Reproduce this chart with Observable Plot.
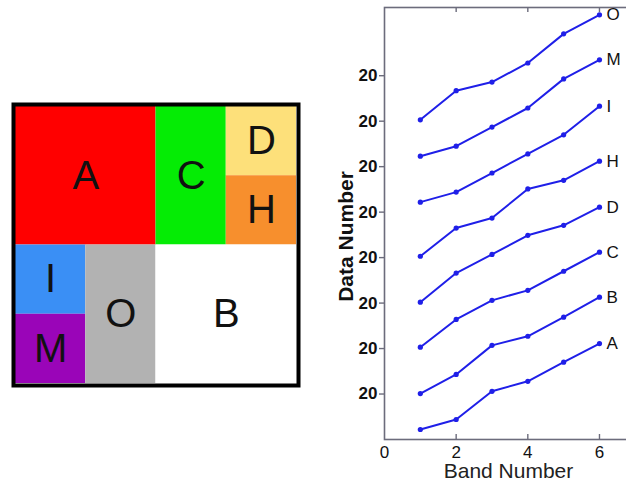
<!DOCTYPE html>
<html>
<head>
<meta charset="utf-8">
<script src="https://cdn.jsdelivr.net/npm/d3@7"></script>
<script src="https://cdn.jsdelivr.net/npm/@observablehq/plot@0.6"></script>
<style>
  html, body { margin: 0; padding: 0; background: white; }
  #wrap { position: relative; width: 626px; height: 481px; overflow: hidden; background: white; }
  #wrap svg { position: absolute; top: 0; left: 0; }
</style>
</head>
<body>
<div id="wrap"></div>
<script>
// ---- Left panel: block layout ----
const tileNames  = ["A", "C", "D", "H", "I", "M", "O", "B"];
const tileCol0   = [0, 2, 3, 3, 0, 0, 1, 2];
const tileCol1   = [2, 3, 4, 4, 1, 1, 2, 4];
const tileRow0   = [0, 0, 0, 1, 2, 3, 2, 2];
const tileRow1   = [2, 2, 1, 2, 3, 4, 4, 4];
const tileColors = ["#ff0000", "#05ec05", "#fde07a", "#f78f2d", "#3a8ff5", "#9a05b8", "#b2b2b2", "#ffffff"];

// ---- Right panel: offset band profiles ----
const bands = [1, 2, 3, 4, 5, 6];
const seriesNames = ["A", "B", "C", "D", "H", "I", "M", "O"];
const valA = [0.22, 0.44, 1.06, 1.28, 1.70, 2.11];
const valB = [1.01, 1.43, 2.07, 2.27, 2.69, 3.13];
const valC = [2.03, 2.64, 3.06, 3.28, 3.70, 4.12];
const valD = [3.02, 3.66, 4.07, 4.49, 4.71, 5.11];
const valH = [4.03, 4.65, 4.87, 5.51, 5.70, 6.12];
const valI = [5.22, 5.44, 5.86, 6.28, 6.70, 7.33];
const valM = [6.23, 6.45, 6.87, 7.29, 7.93, 8.35];
const valO = [7.03, 7.67, 7.86, 8.28, 8.92, 9.34];
const seriesValues = [valA, valB, valC, valD, valH, valI, valM, valO];
const yTickValues = [1, 2, 3, 4, 5, 6, 7, 8];
const yTickLabel = "20";
const xTickValues = [0, 2, 4, 6];
const xInnerTicks = [2, 4, 6];

const tiles = tileNames.map((n, i) => ({
  name: n, c0: tileCol0[i], c1: tileCol1[i], r0: tileRow0[i], r1: tileRow1[i], color: tileColors[i]
}));
const rows = seriesNames.flatMap((s, i) => bands.map((b, j) => ({series: s, band: b, value: seriesValues[i][j]})));

const font = "'Liberation Sans', Arial, Helvetica, sans-serif";
const axisColor = "#6c6c7c";
const lineColor = "#1f1fe8";

const rightFrame = {
  width: 640, height: 481,
  marginLeft: 384, marginRight: 0, marginTop: 7, marginBottom: 42,
  style: {fontFamily: font, background: "transparent", maxWidth: "none", overflow: "visible"},
  x: {domain: [0, 256 / 35.83], axis: null},
  y: {domain: [0, 9.5], axis: null}
};

const right = Plot.plot({
  ...rightFrame,
  marks: [
    Plot.frame({stroke: axisColor, strokeWidth: 1.6}),
    Plot.ruleX(xInnerTicks, {stroke: axisColor, strokeWidth: 1.4, insetTop: 427}),
    Plot.ruleX(xInnerTicks, {stroke: axisColor, strokeWidth: 1.4, insetBottom: 427}),
    Plot.axisY(yTickValues, {tickSize: 5, tickPadding: 2, fontSize: 17, fontWeight: "bold", fill: "#111", stroke: axisColor, strokeWidth: 1.4, tickFormat: () => yTickLabel, label: null}),
    Plot.line(rows, {x: "band", y: "value", z: "series", stroke: lineColor, strokeWidth: 2}),
    Plot.dot(rows, {x: "band", y: "value", fill: lineColor, r: 2.6}),
    Plot.text(rows, Plot.selectLast({x: "band", y: "value", z: "series", text: "series", dx: 7, textAnchor: "start", fontSize: 17, fill: "#111"})),
    Plot.text(["Data Number"], {frameAnchor: "left", textAnchor: "middle", rotate: -90, dx: -38, dy: 13, fontSize: 21, fontWeight: "bold", fill: "#111"}),
    Plot.text(["Band Number"], {frameAnchor: "bottom-left", textAnchor: "middle", dx: 124, dy: 38, fontSize: 21, fill: "#222"})
  ]
});

// x tick labels on their own layer, drawn last
const xLabels = Plot.plot({
  ...rightFrame,
  marks: [
    Plot.text(xTickValues, {x: d => d, frameAnchor: "bottom", lineAnchor: "top", dy: 6, text: d => String(d), fontSize: 17, fill: "#111"})
  ]
});

const left = Plot.plot({
  width: 310, height: 481,
  marginLeft: 15, marginRight: 14, marginTop: 106, marginBottom: 98,
  style: {fontFamily: font, background: "transparent", maxWidth: "none", overflow: "visible"},
  x: {domain: [0, 4], axis: null},
  y: {domain: [0, 4], reverse: true, axis: null},
  marks: [
    Plot.rect(tiles, {x1: "c0", x2: "c1", y1: "r0", y2: "r1", fill: "color"}),
    Plot.text(tiles, {x: d => (d.c0 + d.c1) / 2, y: d => (d.r0 + d.r1) / 2, text: "name", fontSize: 40, fill: "#111"}),
    Plot.frame({stroke: "#000", strokeWidth: 4, inset: -2})
  ]
});

const wrap = document.getElementById("wrap");
wrap.appendChild(right);
wrap.appendChild(left);
wrap.appendChild(xLabels);
</script>
</body>
</html>
